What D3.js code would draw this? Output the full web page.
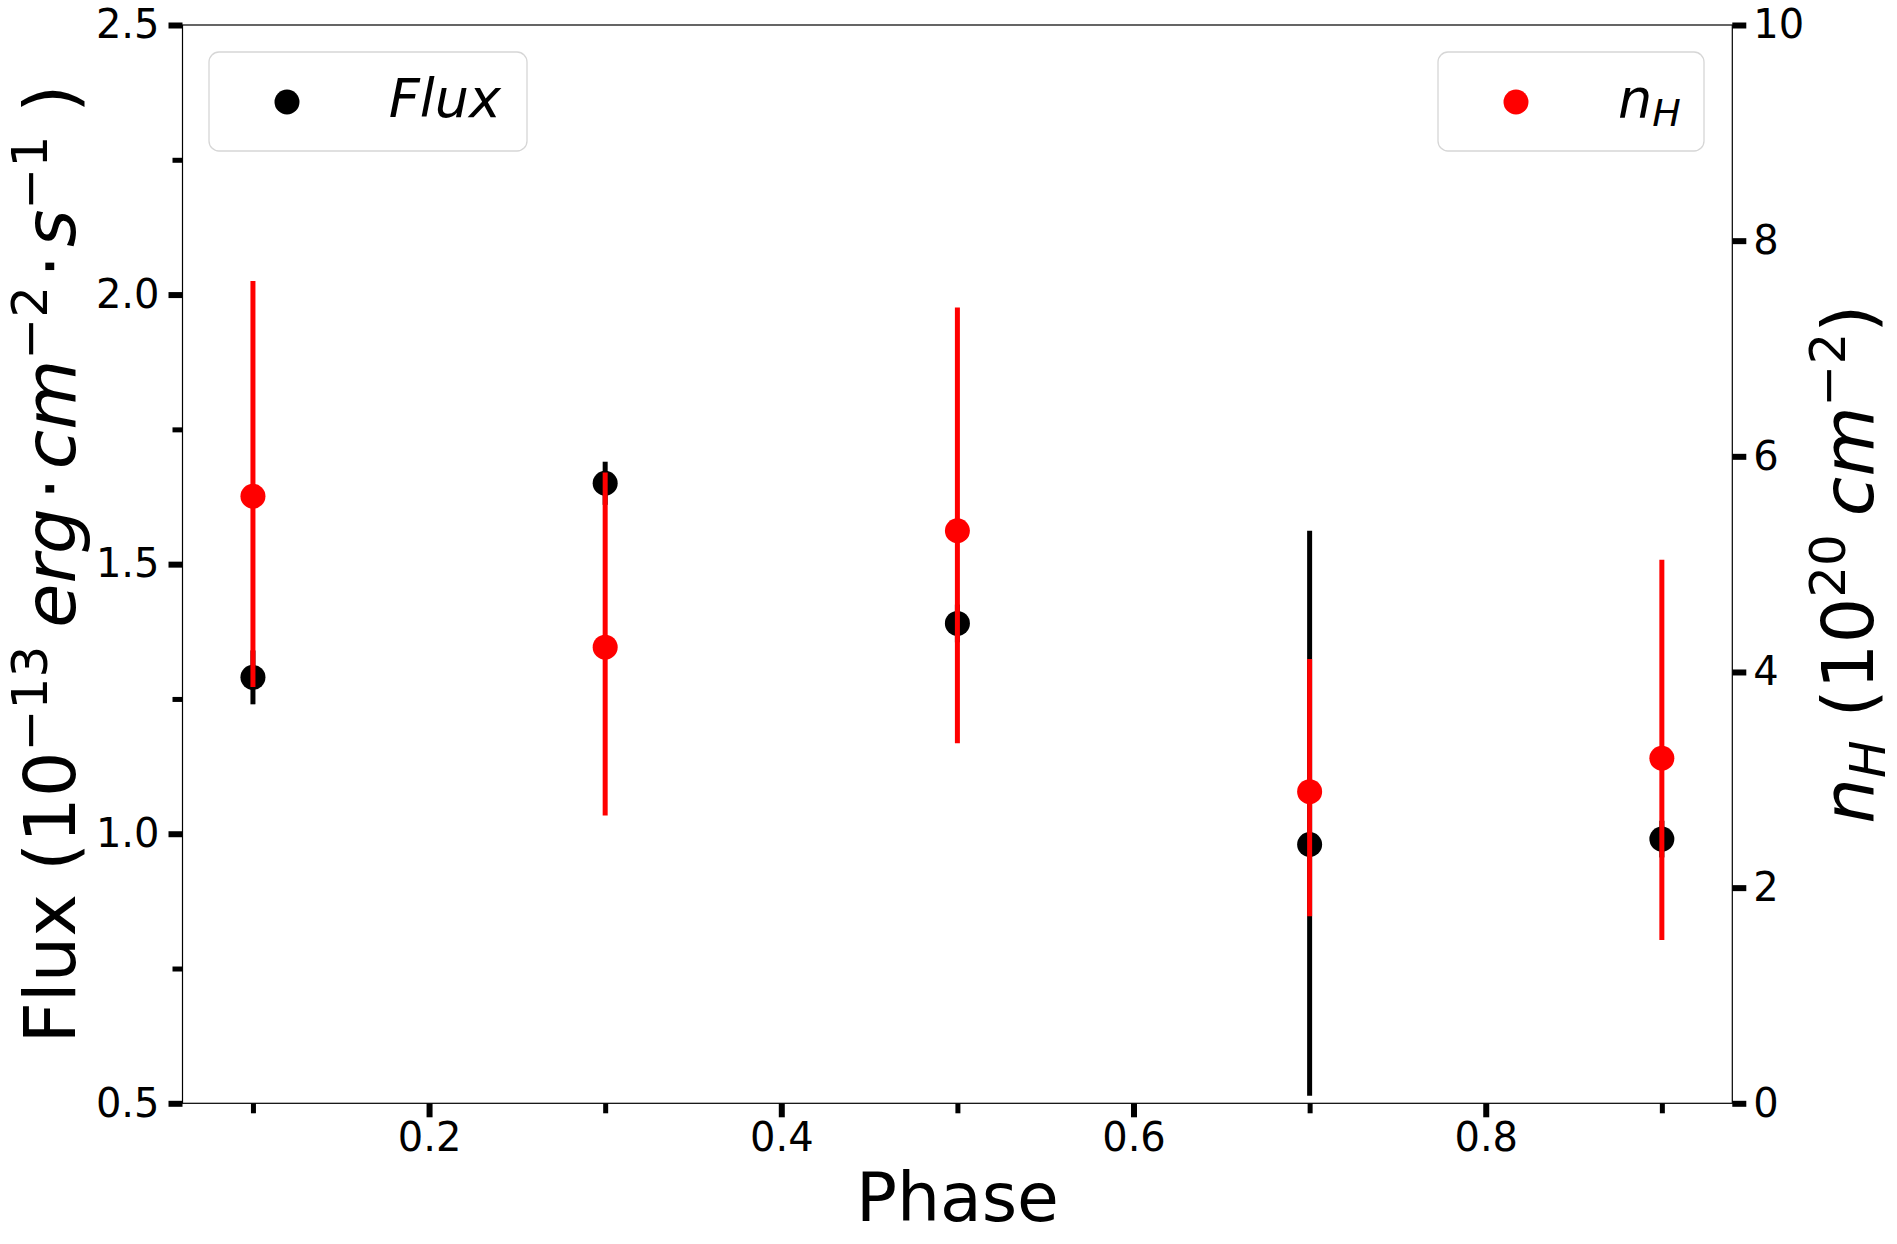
<!DOCTYPE html>
<html>
<head>
<meta charset="utf-8">
<script src="https://cdn.jsdelivr.net/npm/d3@7"></script>
<style>
  body { margin: 0; background: #fff; }
  svg { display: block; }
  text { font-family: "DejaVu Sans", sans-serif; fill: #000; }
</style>
</head>
<body>
<svg id="chart" width="1897" height="1244"></svg>
<script>
// data
const phase = [0.1, 0.3, 0.5, 0.7, 0.9];
const flux = [1.29, 1.65, 1.39, 0.98, 0.99];
const fluxErrLo = [0.05, 0.04, 0.035, 0.466, 0.034];
const fluxErrHi = [0.05, 0.04, 0.035, 0.582, 0.034];
const nH = [5.63, 4.23, 5.31, 2.89, 3.20];
const nHErrLo = [1.77, 1.56, 1.97, 1.155, 1.685];
const nHErrHi = [1.995, 1.62, 2.07, 1.23, 1.84];

const xMajor = [0.2, 0.4, 0.6, 0.8];
const xMinor = [0.1, 0.3, 0.5, 0.7, 0.9];
const yLeftMajor = [0.5, 1.0, 1.5, 2.0, 2.5];
const yLeftMinor = [0.75, 1.25, 1.75, 2.25];
const yRightMajor = [0, 2, 4, 6, 8, 10];

const W = 1897, H = 1244;
const m = {left: 182.5, top: 25, right: 1732.3, bottom: 1103.3};

const svg = d3.select('#chart');

const x = d3.scaleLinear().domain([0.06, 0.94]).range([m.left, m.right]);
const yL = d3.scaleLinear().domain([0.5, 2.5]).range([m.bottom, m.top]);
const yR = d3.scaleLinear().domain([0, 10]).range([m.bottom, m.top]);

const TICK_FS = 40;

function styleAxis(g, width) {
    g.select('.domain').remove();
    g.selectAll('.tick line').attr('stroke', '#000').attr('stroke-width', width);
    g.selectAll('.tick text')
        .style('font-size', TICK_FS + 'px')
        .style('font-family', '"DejaVu Sans"')
        .attr('fill', '#000');
}

// x axis
svg.append('g')
    .attr('transform', `translate(0,${m.bottom})`)
    .call(d3.axisBottom(x).tickValues(xMinor).tickFormat('').tickSize(10))
    .call(g => styleAxis(g, 5));
svg.append('g')
    .attr('transform', `translate(0,${m.bottom})`)
    .call(d3.axisBottom(x).tickValues(xMajor).tickFormat(d3.format('.1f')).tickSize(14).tickPadding(5))
    .call(g => styleAxis(g, 6));

// left axis
svg.append('g')
    .attr('transform', `translate(${m.left},0)`)
    .call(d3.axisLeft(yL).tickValues(yLeftMinor).tickFormat('').tickSize(10))
    .call(g => styleAxis(g, 5));
svg.append('g')
    .attr('transform', `translate(${m.left},0)`)
    .call(d3.axisLeft(yL).tickValues(yLeftMajor).tickFormat(d3.format('.1f')).tickSize(14).tickPadding(9))
    .call(g => styleAxis(g, 6));

// right axis
svg.append('g')
    .attr('transform', `translate(${m.right},0)`)
    .call(d3.axisRight(yR).tickValues(yRightMajor).tickFormat(d3.format('d')).tickSize(14).tickPadding(7))
    .call(g => styleAxis(g, 6));

// frame
svg.append('rect')
    .attr('x', m.left).attr('y', m.top)
    .attr('width', m.right - m.left).attr('height', m.bottom - m.top)
    .attr('fill', 'none').attr('stroke', '#000').attr('stroke-width', 1.2);

// flux series (left axis)
const gFlux = svg.append('g');
gFlux.selectAll('line')
    .data(phase)
    .enter().append('line')
    .attr('x1', d => x(d)).attr('x2', d => x(d))
    .attr('y1', (d, i) => yL(flux[i] - fluxErrLo[i]))
    .attr('y2', (d, i) => yL(flux[i] + fluxErrHi[i]))
    .attr('stroke', '#000').attr('stroke-width', 5);
gFlux.selectAll('circle')
    .data(phase)
    .enter().append('circle')
    .attr('cx', d => x(d)).attr('cy', (d, i) => yL(flux[i]))
    .attr('r', 12.5).attr('fill', '#000');

// nH series (right axis)
const gNH = svg.append('g');
gNH.selectAll('line')
    .data(phase)
    .enter().append('line')
    .attr('x1', d => x(d)).attr('x2', d => x(d))
    .attr('y1', (d, i) => yR(nH[i] - nHErrLo[i]))
    .attr('y2', (d, i) => yR(nH[i] + nHErrHi[i]))
    .attr('stroke', '#ff0000').attr('stroke-width', 5);
gNH.selectAll('circle')
    .data(phase)
    .enter().append('circle')
    .attr('cx', d => x(d)).attr('cy', (d, i) => yR(nH[i]))
    .attr('r', 12.5).attr('fill', '#ff0000');

// axis labels
svg.append('text')
    .attr('x', (m.left + m.right) / 2).attr('y', 1221)
    .attr('text-anchor', 'middle')
    .style('font-size', '68px')
    .text('Phase');

const LAB = 72, SUP = 50, RAISE = 28;
const yLab = svg.append('text')
    .attr('transform', `translate(75,${(m.top + m.bottom) / 2}) rotate(-90)`)
    .attr('text-anchor', 'middle')
    .style('font-size', LAB + 'px');
yLab.append('tspan').text('Flux (10');
yLab.append('tspan').style('font-size', SUP + 'px').attr('dy', -RAISE).text('\u221213');
yLab.append('tspan').style('font-style', 'italic').attr('dy', RAISE).attr('dx', 18).text('erg');
yLab.append('tspan').attr('dx', 8).text('\u22c5');
yLab.append('tspan').style('font-style', 'italic').attr('dx', 8).text('cm');
yLab.append('tspan').style('font-size', SUP + 'px').attr('dy', -RAISE).text('\u22122');
yLab.append('tspan').attr('dy', RAISE).attr('dx', 8).text('\u22c5');
yLab.append('tspan').style('font-style', 'italic').attr('dx', 8).text('s');
yLab.append('tspan').style('font-size', SUP + 'px').attr('dy', -RAISE).text('\u22121');
yLab.append('tspan').attr('dy', RAISE).text(' )');

const rLab = svg.append('text')
    .attr('transform', `translate(1873,${(m.top + m.bottom) / 2}) rotate(-90)`)
    .attr('text-anchor', 'middle')
    .style('font-size', LAB + 'px');
rLab.append('tspan').style('font-style', 'italic').text('n');
rLab.append('tspan').style('font-style', 'italic').style('font-size', SUP + 'px').attr('dy', 12).text('H');
rLab.append('tspan').attr('dy', -12).text(' (10');
rLab.append('tspan').style('font-size', SUP + 'px').attr('dy', -RAISE).text('20');
rLab.append('tspan').style('font-style', 'italic').attr('dy', RAISE).attr('dx', 18).text('cm');
rLab.append('tspan').style('font-size', SUP + 'px').attr('dy', -RAISE).text('\u22122');
rLab.append('tspan').attr('dy', RAISE).text(')');

// legends
function legend(x0, w, color) {
    const g = svg.append('g');
    g.append('rect')
        .attr('x', x0).attr('y', 52).attr('width', w).attr('height', 99)
        .attr('rx', 10).attr('ry', 10)
        .attr('fill', '#fff').attr('stroke', '#d6d6d6').attr('stroke-width', 1.3);
    g.append('circle').attr('cx', x0 + 78).attr('cy', 102).attr('r', 12.5).attr('fill', color);
    return g;
}
const lg1 = legend(209, 318, '#000');
lg1.append('text')
    .attr('x', 501).attr('y', 117).attr('text-anchor', 'end')
    .style('font-size', '54px').style('font-style', 'italic')
    .text('Flux');

const lg2 = legend(1438, 266, '#ff0000');
const t2 = lg2.append('text')
    .attr('x', 1618).attr('y', 117)
    .style('font-size', '54px').style('font-style', 'italic');
t2.append('tspan').text('n');
t2.append('tspan').style('font-size', '38px').attr('dy', 9).text('H');
</script>
</body>
</html>
